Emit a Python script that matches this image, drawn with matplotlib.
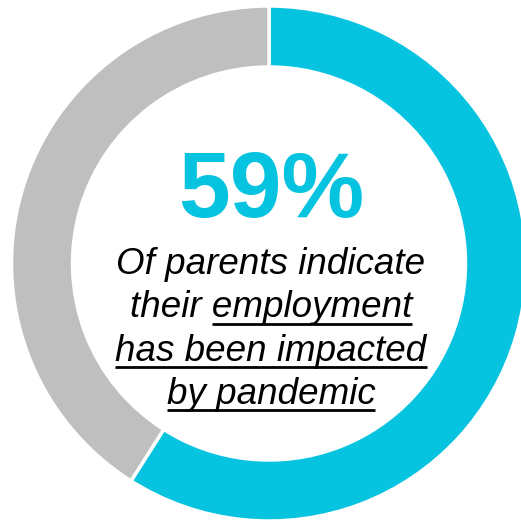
import matplotlib
matplotlib.use("Agg")
import matplotlib.pyplot as plt

# data
labels = ["Impacted", "Not impacted"]
shares = [59, 41]
colors = ["#06C3DF", "#BFBFBF"]
big_label = "59%"
# (plain part, underlined part) per caption line
caption = [
    ("Of parents indicate", ""),
    ("their ", "employment"),
    ("", "has been impacted"),
    ("", "by pandemic"),
]

W, H = 521, 522
fig = plt.figure(figsize=(W / 100, H / 100), dpi=100)
ax = fig.add_axes([0, 0, 1, 1])

cx, cy = 269, H - 263.5
ax.pie(
    shares, colors=colors, startangle=90, counterclock=False,
    radius=257.5, center=(cx, cy),
    wedgeprops=dict(width=61, edgecolor="white", linewidth=2.5),
)
ax.set_xlim(0, W)
ax.set_ylim(0, H)
ax.set_aspect("equal")
ax.axis("off")

font = "Liberation Sans"
ax.text(271, H - 217, big_label, ha="center", va="baseline",
        fontsize=67, fontweight="bold", color=colors[0], family=font)

tx = 271
base0 = 274
step = 43.3
txt_style = dict(fontsize=26.5, style="italic", color="black", family=font,
                 ha="center", va="baseline")

texts = []
for i, (plain, under) in enumerate(caption):
    y = H - (base0 + i * step)
    t = ax.text(tx, y, plain + under, **txt_style)
    texts.append((t, under, y))

fig.canvas.draw()
renderer = fig.canvas.get_renderer()
inv = ax.transData.inverted()
for t, under, y in texts:
    if not under:
        continue
    bb = t.get_window_extent(renderer)
    tmp = ax.text(0, 0, under, **txt_style)
    w = tmp.get_window_extent(renderer).width
    tmp.remove()
    x1 = inv.transform((bb.x1, 0))[0]
    x0 = inv.transform((bb.x1 - w, 0))[0]
    ax.plot([x0, x1], [y - 6.5, y - 6.5], color="black", lw=2, solid_capstyle="butt")

fig.savefig("out.png", dpi=100)
